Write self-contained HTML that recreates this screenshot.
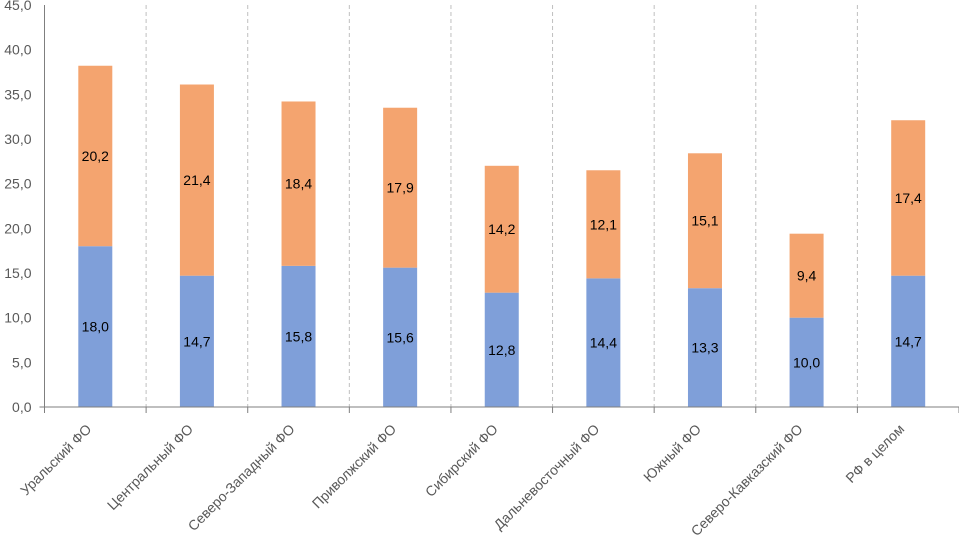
<!DOCTYPE html>
<html><head><meta charset="utf-8"><style>
html,body{margin:0;padding:0;background:#fff;}
svg{display:block;font-family:"Liberation Sans","DejaVu Sans",sans-serif;}
</style></head><body>
<svg id="chart" width="959" height="542"></svg>
<script>
const categories=["Уральский ФО","Центральный ФО","Северо-Западный ФО","Приволжский ФО","Сибирский ФО","Дальневосточный ФО","Южный ФО","Северо-Кавказский ФО","РФ в целом"];
const seriesBlue=[18.0,14.7,15.8,15.6,12.8,14.4,13.3,10.0,14.7];
const seriesOrange=[20.2,21.4,18.4,17.9,14.2,12.1,15.1,9.4,17.4];
const yTicks=[0,5,10,15,20,25,30,35,40,45];

const svg=document.getElementById('chart');
const NS='http://www.w3.org/2000/svg';
const x0=44.5,x1=959,y0=407,yTop=5,yMax=45;
const band=(x1-x0)/categories.length;
const y=v=>y0-(v/yMax)*(y0-yTop);
const xc=i=>x0+band*(i+0.5);
const fmt=v=>v.toFixed(1).replace('.',',');
function mk(t,a){const e=document.createElementNS(NS,t);for(const k in a)e.setAttribute(k,a[k]);svg.appendChild(e);return e;}

yTicks.forEach(t=>{
  const e=mk('text',{x:x0-13,y:y(t)+5,'text-anchor':'end','font-size':14,fill:'#595959'});
  e.textContent=fmt(t);
  
  
});
for(let i=1;i<categories.length;i++){
  const gx=x0+band*i;
  const g=mk('line',{x1:gx,x2:gx,y1:yTop,y2:y0,stroke:'#bfbfbf','stroke-dasharray':'4,3','stroke-width':1});
  
  
}
for(let i=0;i<=categories.length;i++){
  const gx=x0+band*i;
  const t=mk('line',{x1:gx,x2:gx,y1:y0,y2:y0+6,stroke:'#7f7f7f'});
  
  
}
categories.forEach((c,i)=>{
  const cx=xc(i),bw=34;
  const b=mk('rect',{x:cx-bw/2,y:y(seriesBlue[i]),width:bw,height:y0-y(seriesBlue[i]),fill:'#7f9fd9'});
  
  
  const top=seriesBlue[i]+seriesOrange[i];
  const o=mk('rect',{x:cx-bw/2,y:y(top),width:bw,height:y(seriesBlue[i])-y(top),fill:'#f4a46f'});
  
  
  const l1=mk('text',{x:cx,y:(y(seriesBlue[i])+y0)/2+5,'text-anchor':'middle','font-size':14,fill:'#000'});
  l1.textContent=fmt(seriesBlue[i]);
  
  
  const l2=mk('text',{x:cx,y:(y(top)+y(seriesBlue[i]))/2+5,'text-anchor':'middle','font-size':14,fill:'#000'});
  l2.textContent=fmt(seriesOrange[i]);
  
  
  const cl=mk('text',{x:0,y:0,'text-anchor':'end','font-size':14,fill:'#595959',transform:`translate(${cx-3},${y0+23}) rotate(-45)`});
  cl.textContent=c;
  
  
});
const ax=mk('line',{x1:x0,x2:x0,y1:yTop,y2:y0,stroke:'#7f7f7f'});


const bx=mk('line',{x1:x0-5,x2:x1,y1:y0,y2:y0,stroke:'#7f7f7f'});


</script>
</body></html>
